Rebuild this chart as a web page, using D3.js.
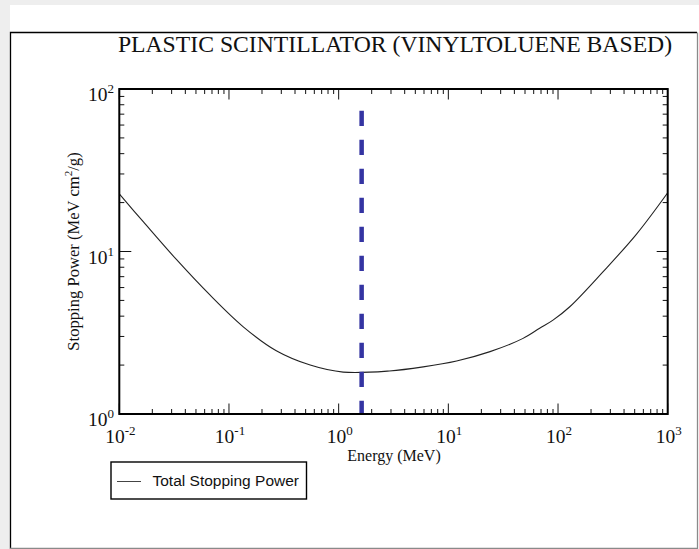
<!DOCTYPE html>
<html>
<head>
<meta charset="utf-8">
<script src="https://cdn.jsdelivr.net/npm/d3@7"></script>
<style>
    body { margin: 0; background: #eeeeee; }
    svg { display: block; }
    .serif { font-family: "Liberation Serif", "Times New Roman", serif; fill: #111; }
    .sans { font-family: "Liberation Sans", Arial, sans-serif; fill: #111; }
</style>
</head>
<body>
<svg id="chart" width="699" height="549"></svg>
<script>
// data (electron energy in MeV, total stopping power in MeV cm2/g)
const energy   = [0.01, 0.0166, 0.0333, 0.067, 0.135, 0.27, 0.55, 1.1, 2.9, 5.9, 11.9, 24, 48, 68, 90, 128, 258, 520, 1000]
const stopping = [22.6, 15.2, 8.9, 5.4, 3.44, 2.45, 2.0, 1.81, 1.84, 1.95, 2.12, 2.42, 2.92, 3.37, 3.78, 4.57, 7.52, 12.8, 23.0]

// vertical marker
const markerEnergy = 1.62
const markerTop = 73.5

// decade tick labels (exponents of 10)
const xExponents = [-2, -1, 0, 1, 2, 3]
const yExponents = [0, 1, 2]

const title = "PLASTIC SCINTILLATOR (VINYLTOLUENE BASED)"
const xTitle = "Energy (MeV)"
const legendLabel = "Total Stopping Power"

// layout
const plot = {left: 119.3, right: 667.7, top: 89, bottom: 414}

const svg = d3.select("#chart")

// panel background and etched border
svg.append("rect").attr("x", 0).attr("y", 0).attr("width", 699).attr("height", 549).attr("fill", "#eeeeee")
svg.append("rect").attr("x", 10).attr("y", 5).attr("width", 689).attr("height", 544).attr("fill", "#ffffff")
svg.append("path").attr("d", "M10.5,549 V32.5 H697").attr("fill", "none").attr("stroke", "#000").attr("stroke-width", 1.3)
svg.append("path").attr("d", "M697.5,32.5 V548.5 H10").attr("fill", "none").attr("stroke", "#8a8a8a").attr("stroke-width", 1.3)

// scales
const x = d3.scaleLog().domain([0.01, 1000]).range([plot.left, plot.right])
const y = d3.scaleLog().domain([1, 100]).range([plot.bottom, plot.top])

const xMajor = xExponents.map(e => Math.pow(10, e))
const yMajor = yExponents.map(e => Math.pow(10, e))
const xMinor = x.ticks().filter(v => !xMajor.some(m => Math.abs(m - v) / m < 1e-6))
const yMinor = y.ticks().filter(v => !yMajor.some(m => Math.abs(m - v) / m < 1e-6))

// title
svg.append("text").attr("class", "serif")
    .attr("x", 395).attr("y", 52)
    .attr("text-anchor", "middle").attr("font-size", 23.7)
    .text(title)

// ticks (inward on all four sides)
const ticks = svg.append("g").attr("stroke", "#111").attr("stroke-width", 1)
ticks.selectAll(".xminb").data(xMinor).join("line")
    .attr("x1", d => x(d)).attr("x2", d => x(d))
    .attr("y1", plot.bottom).attr("y2", plot.bottom - 5)
ticks.selectAll(".xmint").data(xMinor).join("line")
    .attr("x1", d => x(d)).attr("x2", d => x(d))
    .attr("y1", plot.top).attr("y2", plot.top + 5)
ticks.selectAll(".xmajb").data(xMajor).join("line")
    .attr("x1", d => x(d)).attr("x2", d => x(d))
    .attr("y1", plot.bottom).attr("y2", plot.bottom - 10.5)
ticks.selectAll(".xmajt").data(xMajor).join("line")
    .attr("x1", d => x(d)).attr("x2", d => x(d))
    .attr("y1", plot.top).attr("y2", plot.top + 10.5)
ticks.selectAll(".yminl").data(yMinor).join("line")
    .attr("x1", plot.left).attr("x2", plot.left + 5)
    .attr("y1", d => y(d)).attr("y2", d => y(d))
ticks.selectAll(".yminr").data(yMinor).join("line")
    .attr("x1", plot.right).attr("x2", plot.right - 5)
    .attr("y1", d => y(d)).attr("y2", d => y(d))
ticks.selectAll(".ymajl").data(yMajor).join("line")
    .attr("x1", plot.left).attr("x2", plot.left + 12)
    .attr("y1", d => y(d)).attr("y2", d => y(d))
ticks.selectAll(".ymajr").data(yMajor).join("line")
    .attr("x1", plot.right).attr("x2", plot.right - 11)
    .attr("y1", d => y(d)).attr("y2", d => y(d))

// power-of-ten labels
function powerLabel(sel) {
    sel.append("tspan").text("10")
    sel.append("tspan").attr("dy", -8).attr("font-size", 13).text(d => d)
}
svg.selectAll(".xlab").data(xExponents).join("text")
    .attr("class", "serif")
    .attr("x", d => x(Math.pow(10, d)) + 1).attr("y", 443)
    .attr("text-anchor", "middle").attr("font-size", 19.5)
    .call(powerLabel)
svg.selectAll(".ylab").data(yExponents).join("text")
    .attr("class", "serif")
    .attr("x", 114).attr("y", d => y(Math.pow(10, d)) + 12)
    .attr("text-anchor", "end").attr("font-size", 19.5)
    .call(powerLabel)

// axis titles
svg.append("text").attr("class", "serif")
    .attr("x", 394).attr("y", 461)
    .attr("text-anchor", "middle").attr("font-size", 16)
    .text(xTitle)
const yTitle = svg.append("text").attr("class", "serif")
    .attr("transform", "translate(79,251.5) rotate(-90)")
    .attr("text-anchor", "middle").attr("font-size", 16.6)
yTitle.append("tspan").text("Stopping Power (MeV cm")
yTitle.append("tspan").attr("dy", -7).attr("font-size", 11).text("2")
yTitle.append("tspan").attr("dy", 7).text("/g)")

// stopping power curve
const line = d3.line()
    .x(d => x(d[0]))
    .y(d => y(d[1]))
    .curve(d3.curveCatmullRom.alpha(0.5))
svg.append("path")
    .datum(d3.zip(energy, stopping))
    .attr("d", line)
    .attr("fill", "none")
    .attr("stroke", "#222")
    .attr("stroke-width", 1.1)

// dashed marker, dash pattern runs from the top down
svg.append("line")
    .attr("x1", x(markerEnergy)).attr("x2", x(markerEnergy))
    .attr("y1", y(markerTop)).attr("y2", y(1))
    .attr("stroke", "#3434a2").attr("stroke-width", 4.5)
    .attr("stroke-dasharray", "15.3 13.7")

// plot frame
svg.append("rect")
    .attr("x", plot.left).attr("y", plot.top)
    .attr("width", plot.right - plot.left).attr("height", plot.bottom - plot.top)
    .attr("fill", "none").attr("stroke", "#000").attr("stroke-width", 2)

// legend
const legend = svg.append("g")
legend.append("rect")
    .attr("x", 111).attr("y", 462).attr("width", 195.5).attr("height", 37)
    .attr("fill", "#fff").attr("stroke", "#000").attr("stroke-width", 1.4)
legend.append("line")
    .attr("x1", 117).attr("x2", 141).attr("y1", 481.5).attr("y2", 481.5)
    .attr("stroke", "#444").attr("stroke-width", 1)
legend.append("text").attr("class", "sans")
    .attr("x", 152.5).attr("y", 486)
    .attr("font-size", 15.5)
    .text(legendLabel)
</script>
</body>
</html>
